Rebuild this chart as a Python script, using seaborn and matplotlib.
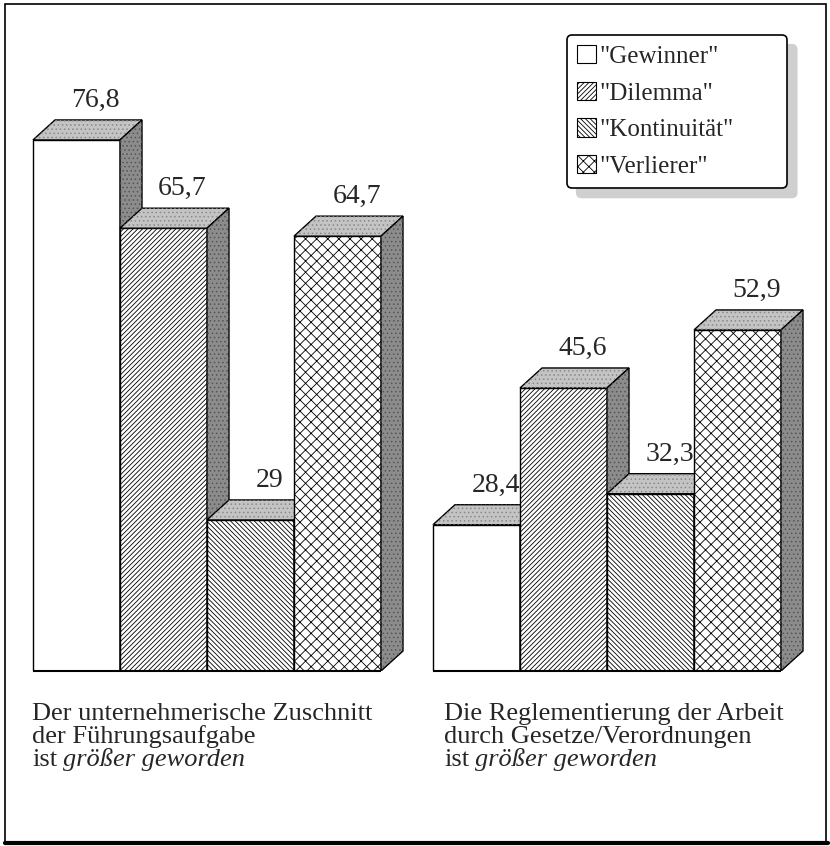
import numpy as np
import pandas as pd
import matplotlib
matplotlib.use("Agg")
import matplotlib.pyplot as plt
from matplotlib.patches import Polygon, Patch, Rectangle
from matplotlib.lines import Line2D
import seaborn as sns

# data
statements = ["zuschnitt", "reglementierung"]
types = ['"Gewinner"', '"Dilemma"', '"Kontinuität"', '"Verlierer"']
zuschnitt = [76.8, 65.7, 29.0, 64.7]
reglementierung = [28.4, 45.6, 32.3, 52.9]
value_labels = [["76,8", "65,7", "29", "64,7"], ["28,4", "45,6", "32,3", "52,9"]]
caption_lines = [
    ["Der unternehmerische Zuschnitt", "der Führungsaufgabe"],
    ["Die Reglementierung der Arbeit", "durch Gesetze/Verordnungen"],
]
caption_plain = "ist"
caption_italic = "größer geworden"

hatches = ["", "///////", "\\\\\\\\\\\\\\", "xxx"]

sns.set_style("white")
plt.rcParams["font.family"] = ["Liberation Serif", "DejaVu Serif"]
plt.rcParams["hatch.linewidth"] = 0.6

W, H = 830, 846
fig = plt.figure(figsize=(W / 100, H / 100), dpi=100)

df = pd.DataFrame({
    "Aussage": np.repeat(statements, len(types)),
    "Typ": types * 2,
    "Anteil": zuschnitt + reglementierung,
})

base_px = 671           # floor of the boxes (pixels from top)
px_per_unit = 7.95      # vertical scale
ax = fig.add_axes([0, (H - base_px) / H, 1, base_px / H])
sns.barplot(data=df, x="Aussage", y="Anteil", hue="Typ", hue_order=types,
            order=statements, palette={t: "white" for t in types},
            width=0.87, gap=0, errorbar=None, legend=False,
            edgecolor="black", linewidth=1.0, saturation=1, ax=ax)
x_center0 = 207
ax.set_xlim(-x_center0 / 400, (W - x_center0) / 400)
ax.set_ylim(10, 10 + base_px / px_per_unit)
ax.axis("off")

# 3d depth in data units
dx = 22 / 400
dy = 20 / px_per_unit
floor = ax.get_ylim()[0]

for h, cont in enumerate(ax.containers):
    for g, bar in enumerate(cont):
        bar.set_hatch(hatches[h])
        z = 10 + h * 3
        bar.set_zorder(z)
        x0 = bar.get_x()
        x1 = x0 + bar.get_width()
        top = bar.get_height()
        topface = [(x0, top), (x1, top), (x1 + dx, top + dy), (x0 + dx, top + dy)]
        side = [(x1, floor), (x1, top), (x1 + dx, top + dy), (x1 + dx, floor + dy)]
        ax.add_patch(Polygon(topface, closed=True, facecolor="#c4c4c4",
                             edgecolor="black", lw=1.0, zorder=z + 1))
        ax.add_patch(Polygon(topface, closed=True, facecolor="none", hatch="....",
                             edgecolor="#8a8a8a", lw=0, zorder=z + 1))
        ax.add_patch(Polygon(side, closed=True, facecolor="#8c8c8c",
                             edgecolor="black", lw=1.0, zorder=z + 1))
        ax.add_patch(Polygon(side, closed=True, facecolor="none", hatch="....",
                             edgecolor="#555555", lw=0, zorder=z + 1))
        # bottom edge of the front face (the axes clip it otherwise)
        ax.plot([x0, x1], [floor, floor], color="black", lw=1.5,
                clip_on=False, zorder=40, solid_capstyle="butt")
        ax.text(bar.get_x() + bar.get_width() / 2 + 19 / 400,
                top + dy + 13 / px_per_unit, value_labels[g][h],
                ha="center", va="baseline", fontsize=20, zorder=50, clip_on=False)

# captions below the groups
cap_x = [32, 444]
cap_base = [720, 743, 766]
for g in range(2):
    for i, line in enumerate(caption_lines[g]):
        fig.text(cap_x[g] / W, 1 - cap_base[i] / H, line, ha="left",
                 va="baseline", fontsize=19)
    t = fig.text(cap_x[g] / W, 1 - cap_base[2] / H, caption_plain, ha="left",
                 va="baseline", fontsize=19)
    fig.canvas.draw()
    bb = t.get_window_extent()
    fig.text((bb.x1 + 6) / W, 1 - cap_base[2] / H, caption_italic, ha="left",
             va="baseline", fontsize=19, style="italic")

# legend
handles = [Patch(facecolor="white", edgecolor="black", hatch=hatches[i], lw=0.8)
           for i in range(len(types))]
leg = ax.legend(handles, types, loc="upper left", mode="expand",
                bbox_to_anchor=(567 / W, 1 - 187 / H, 220 / W, 152 / H),
                bbox_transform=fig.transFigure,
                borderaxespad=0, frameon=True, fancybox=True,
                shadow={"ox": 7, "oy": -7, "color": "#cfcfcf", "alpha": 1},
                fontsize=18, handlelength=0.75, handleheight=0.75,
                handletextpad=0.15, labelspacing=0.55, borderpad=0.4)
leg.get_frame().set_edgecolor("black")
leg.get_frame().set_linewidth(1.2)
leg.set_zorder(60)

# outer frame of the picture
fig.add_artist(Rectangle((5 / W, 4 / H), 821 / W, 838 / H, transform=fig.transFigure,
                         fill=False, edgecolor="black", lw=1.2))
fig.add_artist(Line2D([5 / W, 828 / W], [3 / H, 3 / H], transform=fig.transFigure,
                      color="black", lw=3))

fig.savefig("out.png", dpi=100)
